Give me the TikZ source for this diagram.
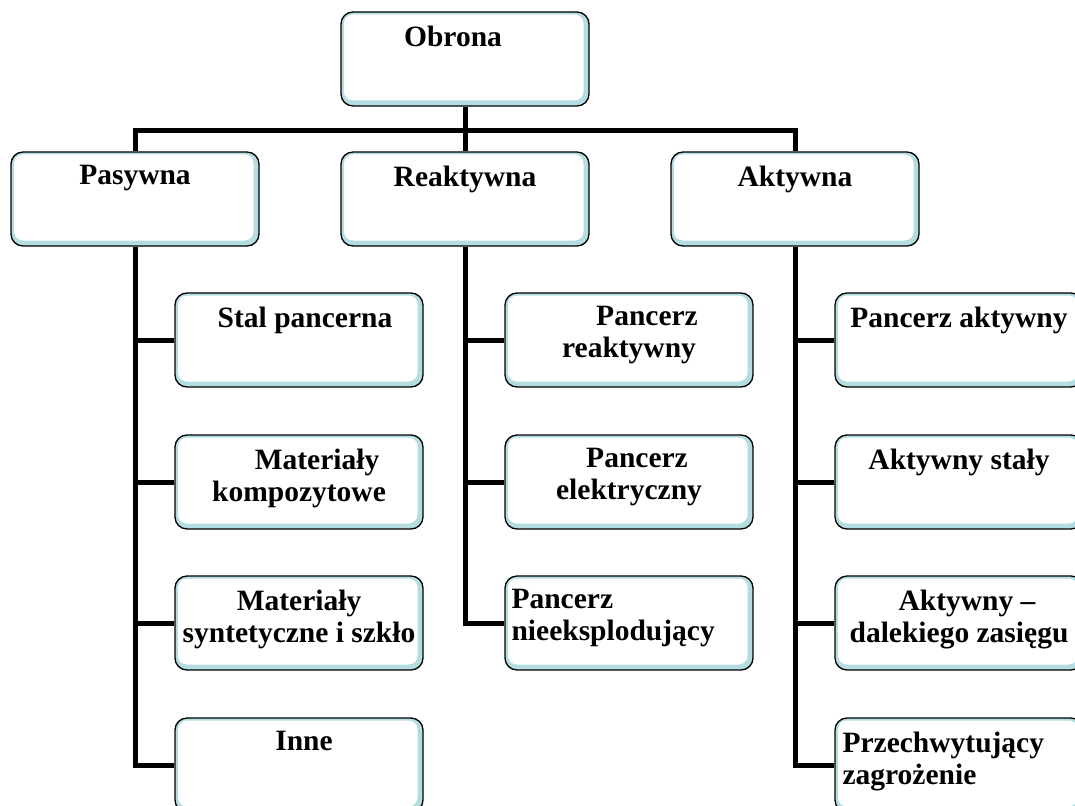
\documentclass[tikz,border=0pt]{standalone}
\usepackage{fontspec}
\setmainfont{Liberation Serif}
\usepackage{tikz}
\usetikzlibrary{positioning,calc}

\definecolor{bandblue}{RGB}{180,221,225}

\tikzset{
  box/.style={draw=black, line width=1.3pt, rounded corners=12pt, fill=bandblue,
    minimum width=248pt, minimum height=94pt, inner sep=0pt,
    path picture={\fill[white, rounded corners=9pt]
      ([shift={(3pt,-2.5pt)}]path picture bounding box.north west) rectangle
      ([shift={(-5.5pt,5.5pt)}]path picture bounding box.south east);}},
  lbl/.style={anchor=north, inner sep=0pt, align=center,
    font=\fontsize{29.5}{32}\selectfont\bfseries},
  link/.style={line width=5pt, line join=miter}
}

\begin{document}
\begin{tikzpicture}[x=1pt, y=-1pt]
    \useasboundingbox (0,0) rectangle (1075,805);

    % top and second level
    \node[box] (obr) at (465,59) {};
    \node[box] (pas) at (135,199) {};
    \node[box] (rea) at (465,199) {};
    \node[box] (akt) at (795,199) {};
    \coordinate (bus) at (0,131);

    % pasywna
    \node[box] (stl) at (299,340) {};
    \node[box] (kom) at (299,482) {};
    \node[box] (syn) at (299,623) {};
    \node[box] (inn) at (299,765) {};

    % reaktywna
    \node[box] (prk) at (629,340) {};
    \node[box] (pel) at (629,482) {};
    \node[box] (pne) at (629,623) {};

    % aktywna
    \node[box] (pak) at (959,340) {};
    \node[box] (ast) at (959,482) {};
    \node[box] (ads) at (959,623) {};
    \node[box] (prz) at (959,765) {};

    % labels
    \node[lbl] (obr-t) at ([xshift=-12pt,yshift=-14pt]obr.north) {Obrona};
    \node[lbl] (pas-t) at ([yshift=-14pt]pas.north) {Pasywna};
    \node[lbl] (rea-t) at ([yshift=-14pt]rea.north) {Reaktywna};
    \node[lbl] (akt-t) at ([yshift=-14pt]akt.north) {Aktywna};

    \node[lbl] (stl-t) at ([xshift=6pt,yshift=-14pt]stl.north) {Stal pancerna};
    \node[lbl] (kom-t) at ([yshift=-14pt]kom.north) {\hspace*{36pt}Materiały\\kompozytowe};
    \node[lbl] (syn-t) at ([yshift=-14pt]syn.north) {Materiały\\syntetyczne i szkło};
    \node[lbl] (inn-t) at ([xshift=5pt,yshift=-14pt]inn.north) {Inne};

    \node[lbl] (prk-t) at ([yshift=-14pt]prk.north) {\hspace*{36pt}Pancerz\\reaktywny};
    \node[lbl] (pel-t) at ([yshift=-14pt]pel.north) {\hspace*{16pt}Pancerz\\elektryczny};
    \node[lbl, anchor=north west, align=left] (pne-t) at ([xshift=7pt,yshift=-14pt]pne.north west) {Pancerz\\nieeksplodujący};

    \node[lbl] (pak-t) at ([yshift=-14pt]pak.north) {Pancerz aktywny};
    \node[lbl] (ast-t) at ([yshift=-14pt]ast.north) {Aktywny stały};
    \node[lbl] (ads-t) at ([yshift=-14pt]ads.north) {\hspace*{16pt}Aktywny --\\dalekiego zasięgu};
    \node[lbl, anchor=north west, align=left] (prz-t) at ([xshift=8pt,yshift=-14pt]prz.north west) {Przechwytujący\\zagrożenie};

    % connectors
    \draw[link] (obr.south) -- (obr |- bus);
    \draw[link] (pas.north) |- (akt |- bus) -- (akt.north);
    \draw[link] (rea |- bus) -- (rea.north);

    \draw[link] (pas.south) |- (inn.west);
    \draw[link] (pas |- stl.west) -- (stl.west);
    \draw[link] (pas |- kom.west) -- (kom.west);
    \draw[link] (pas |- syn.west) -- (syn.west);

    \draw[link] (rea.south) |- (pne.west);
    \draw[link] (rea |- prk.west) -- (prk.west);
    \draw[link] (rea |- pel.west) -- (pel.west);

    \draw[link] (akt.south) |- (prz.west);
    \draw[link] (akt |- pak.west) -- (pak.west);
    \draw[link] (akt |- ast.west) -- (ast.west);
    \draw[link] (akt |- ads.west) -- (ads.west);
\end{tikzpicture}
\end{document}
